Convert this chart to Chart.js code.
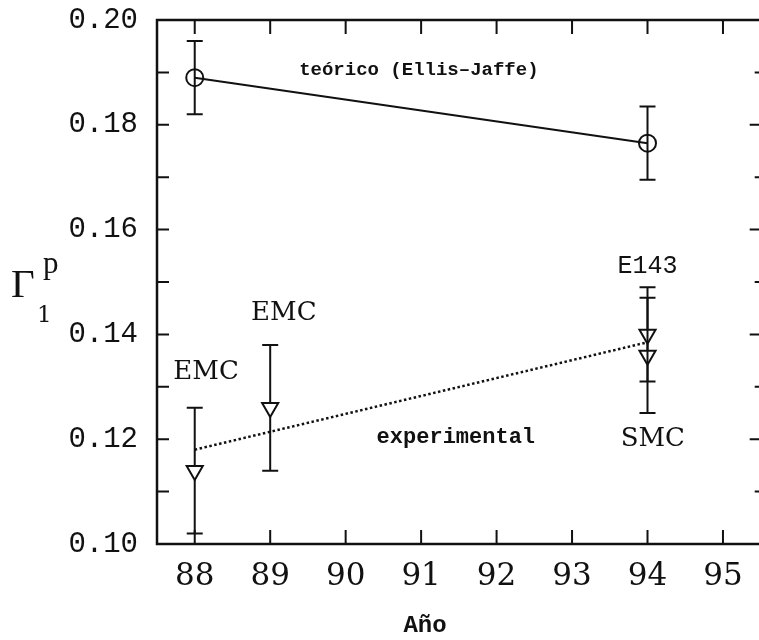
<!DOCTYPE html>
<html>
<head>
<meta charset="utf-8">
<script src="https://cdn.jsdelivr.net/npm/chart.js@4/dist/chart.umd.min.js"></script>
<style>
  html, body { margin: 0; padding: 0; overflow: hidden; background: #fff; width: 759px; height: 640px; }
  #wrap { position: absolute; left: 0; top: 0; width: 772px; height: 640px; }
</style>
</head>
<body>
<div id="wrap"><canvas id="c" width="772" height="640"></canvas></div>
<script>
// Axis ticks
const years = [88, 89, 90, 91, 92, 93, 94, 95];
const yLabelTicks = [0.10, 0.12, 0.14, 0.16, 0.18, 0.20];
const yMinorTicks = [0.10, 0.11, 0.12, 0.13, 0.14, 0.15, 0.16, 0.17, 0.18, 0.19, 0.20];

// Ellis-Jaffe prediction
const theoryYears = [88, 94];
const theoryValues = [0.189, 0.1765];
const theoryErrors = [0.007, 0.007];

// Measurements
const expNames = ['EMC', 'EMC', 'E143', 'SMC'];
const expYears = [88, 89, 94, 94];
const expValues = [0.114, 0.126, 0.140, 0.136];
const expErrors = [0.012, 0.012, 0.009, 0.011];

// Straight-line trend through the measurements
const fitYears = [88, 94];
const fitValues = [0.118, 0.1385];

const INK = '#111';
const CIRCLE_R = 8.5;
const TRI_R = 9.3;
const CAP = 8;

// Text notes anchored in data units (year, value)
const notes = [
  { text: 'teórico (Ellis–Jaffe)', x: 90.97, y: 0.1905, font: 'bold 19px "Liberation Mono"' },
  { text: 'experimental', x: 91.46, y: 0.1204, font: 'bold 22px "Liberation Mono"' },
  { text: expNames[0], x: 88.15, y: 0.1328, font: '26px "DejaVu Serif"' },
  { text: expNames[1], x: 89.18, y: 0.1441, font: '26px "DejaVu Serif"' },
  { text: expNames[2], x: 94.0, y: 0.1530, font: '25px "Liberation Mono"' },
  { text: expNames[3], x: 94.07, y: 0.1200, font: '26px "DejaVu Serif"' }
];

const pts = (xs, ys) => xs.map((x, i) => ({ x: x, y: ys[i] }));

// Frame, inward ticks, error bars and text
const decor = {
  id: 'decor',
  beforeDatasetsDraw(chart) {
    const { ctx, chartArea: a, scales: { x, y } } = chart;
    ctx.save();
    ctx.strokeStyle = INK;
    ctx.lineCap = 'butt';
    // frame
    ctx.lineWidth = 2.5;
    ctx.strokeRect(a.left, a.top, a.right - a.left, a.bottom - a.top);
    // x ticks, top and bottom
    ctx.lineWidth = 2;
    ctx.beginPath();
    years.forEach(v => {
      const px = x.getPixelForValue(v);
      ctx.moveTo(px, a.bottom); ctx.lineTo(px, a.bottom - 14);
      ctx.moveTo(px, a.top); ctx.lineTo(px, a.top + 14);
    });
    // y ticks, left and right
    yMinorTicks.forEach((v, i) => {
      const py = y.getPixelForValue(v);
      ctx.moveTo(a.left, py); ctx.lineTo(a.left + 12, py);
      const len = (i % 2 === 0) ? 11 : 6;
      ctx.moveTo(a.right, py); ctx.lineTo(a.right - len, py);
    });
    ctx.stroke();

    // error bars
    ctx.lineWidth = 2;
    const drawBar = (xv, yv, err, gapTop, gapBot) => {
      const px = x.getPixelForValue(xv);
      const pc = y.getPixelForValue(yv);
      const pt = y.getPixelForValue(yv + err);
      const pb = y.getPixelForValue(yv - err);
      ctx.beginPath();
      ctx.moveTo(px, pt); ctx.lineTo(px, pc - gapTop);
      ctx.moveTo(px, pc + gapBot); ctx.lineTo(px, pb);
      ctx.moveTo(px - CAP, pt); ctx.lineTo(px + CAP, pt);
      ctx.moveTo(px - CAP, pb); ctx.lineTo(px + CAP, pb);
      ctx.stroke();
    };
    theoryYears.forEach((xv, i) => drawBar(xv, theoryValues[i], theoryErrors[i], 0, 0));
    expYears.forEach((xv, i) => drawBar(xv, expValues[i], expErrors[i], TRI_R / 2, TRI_R));
    ctx.restore();
  },
  afterDraw(chart) {
    const { ctx, scales: { x, y } } = chart;
    ctx.save();
    ctx.fillStyle = INK;
    ctx.textAlign = 'center';
    ctx.textBaseline = 'middle';
    notes.forEach(n => {
      ctx.font = n.font;
      ctx.fillText(n.text, x.getPixelForValue(n.x), y.getPixelForValue(n.y));
    });
    // axis titles
    ctx.textBaseline = 'alphabetic';
    ctx.font = 'bold 24px "Liberation Mono"';
    ctx.fillText('Año', 425, 632);
    ctx.textAlign = 'left';
    ctx.font = '41px "Liberation Serif"';
    ctx.fillText('Γ', 11, 297);
    ctx.font = '31px "Liberation Serif"';
    ctx.fillText('p', 43, 273);
    ctx.font = '23px "DejaVu Serif"';
    ctx.fillText('1', 37, 322);
    ctx.restore();
  }
};

new Chart(document.getElementById('c'), {
  type: 'scatter',
  data: {
    datasets: [
      {
        label: 'teórico',
        data: pts(theoryYears, theoryValues),
        showLine: true,
        borderColor: INK,
        borderWidth: 2,
        pointStyle: 'circle',
        pointRadius: CIRCLE_R,
        pointBorderWidth: 2,
        pointBorderColor: INK,
        pointBackgroundColor: 'rgba(0,0,0,0)'
      },
      {
        label: 'ajuste',
        data: pts(fitYears, fitValues),
        showLine: true,
        borderColor: INK,
        borderWidth: 2.5,
        borderDash: [2.5, 2.5],
        pointRadius: 0
      },
      {
        label: 'experimental',
        data: pts(expYears, expValues),
        showLine: false,
        pointStyle: 'triangle',
        rotation: 180,
        pointRadius: TRI_R,
        pointBorderWidth: 2,
        pointBorderColor: INK,
        pointBackgroundColor: 'rgba(0,0,0,0)'
      }
    ]
  },
  options: {
    responsive: false,
    animation: false,
    devicePixelRatio: 1,
    layout: { padding: { top: 20, right: 9, left: 0, bottom: 0 } },
    plugins: { legend: { display: false }, tooltip: { enabled: false } },
    scales: {
      x: {
        type: 'linear',
        min: 87.5,
        max: 95.5,
        grid: { display: false, drawTicks: false },
        border: { display: false },
        afterBuildTicks: s => { s.ticks = years.map(v => ({ value: v })); },
        afterFit: s => { s.height = 96; s.paddingLeft = 0; s.paddingRight = 0; },
        ticks: {
          color: INK,
          padding: 14,
          maxRotation: 0,
          autoSkip: false,
          font: { family: '"DejaVu Serif"', size: 31 },
          callback: v => String(v)
        }
      },
      y: {
        type: 'linear',
        min: 0.10,
        max: 0.20,
        grid: { display: false, drawTicks: false },
        border: { display: false },
        afterBuildTicks: s => { s.ticks = yLabelTicks.map(v => ({ value: v })); },
        afterFit: s => { s.width = 157; s.paddingTop = 0; s.paddingBottom = 0; },
        ticks: {
          color: INK,
          padding: 19,
          autoSkip: false,
          font: { family: '"Liberation Mono"', size: 29 },
          callback: v => Number(v).toFixed(2)
        }
      }
    }
  },
  plugins: [decor]
});
</script>
</body>
</html>
